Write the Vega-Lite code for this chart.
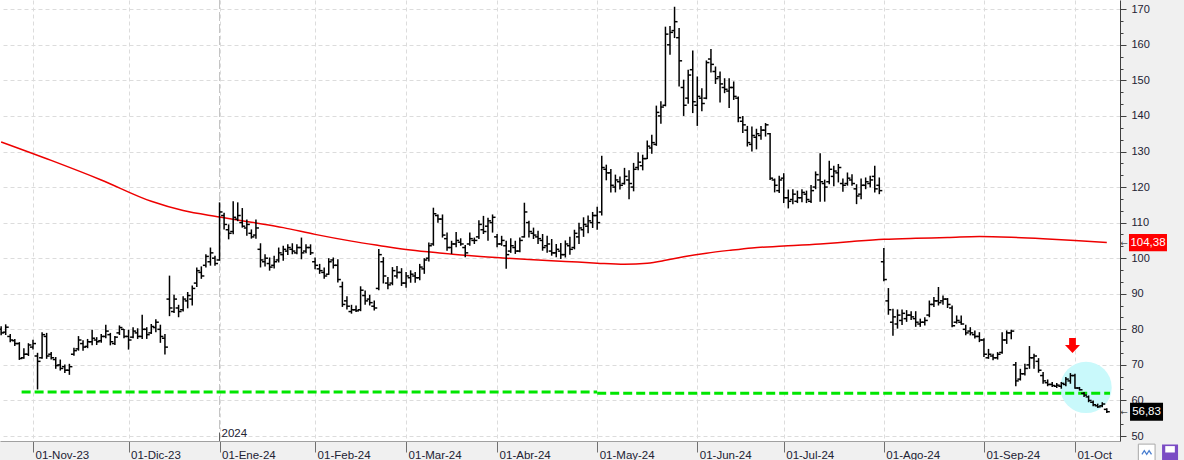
{
"$schema": "https://vega.github.io/schema/vega-lite/v6.json",
"width": 1120,
"height": 441,
"autosize": {"type": "none"},
"padding": {"left": 0, "top": 0, "right": 64, "bottom": 19},
"background": "#f0f0f0",
"view": {"fill": "#ffffff", "stroke": null},
"config": {"axis": {"labelFont": "Liberation Sans"}, "text": {"font": "Liberation Sans"}},
"resolve": {"scale": {"y": "independent"}, "axis": {"y": "independent", "x": "independent"}},
"datasets": {
"bars": [
{"i":0,"o":80.0,"h":80.9,"l":78.3,"c":79.0},
{"i":1,"o":79.2,"h":81.4,"l":78.4,"c":80.6},
{"i":2,"o":78.0,"h":78.7,"l":76.4,"c":77.0},
{"i":3,"o":76.8,"h":77.3,"l":75.3,"c":76.0},
{"i":4,"o":76.0,"h":76.4,"l":71.4,"c":71.8},
{"i":5,"o":72.0,"h":74.7,"l":71.7,"c":73.0},
{"i":6,"o":73.0,"h":76.1,"l":72.5,"c":75.6},
{"i":7,"o":75.0,"h":77.1,"l":74.3,"c":76.0},
{"i":8,"o":72.5,"h":73.4,"l":63.1,"c":71.0},
{"i":9,"o":72.0,"h":79.2,"l":71.7,"c":78.5},
{"i":10,"o":78.0,"h":79.0,"l":71.7,"c":72.5},
{"i":11,"o":73.0,"h":73.6,"l":71.5,"c":72.0},
{"i":12,"o":71.5,"h":72.2,"l":68.9,"c":69.8},
{"i":13,"o":70.0,"h":71.5,"l":68.4,"c":69.0},
{"i":14,"o":69.5,"h":70.1,"l":67.7,"c":68.5},
{"i":15,"o":68.5,"h":70.3,"l":67.2,"c":69.5},
{"i":16,"o":73.0,"h":74.8,"l":72.6,"c":74.0},
{"i":17,"o":74.5,"h":78.1,"l":74.0,"c":77.0},
{"i":18,"o":76.0,"h":76.9,"l":74.0,"c":75.0},
{"i":19,"o":75.2,"h":77.3,"l":74.7,"c":76.5},
{"i":20,"o":76.5,"h":79.9,"l":75.5,"c":77.5},
{"i":21,"o":77.0,"h":77.8,"l":75.6,"c":76.5},
{"i":22,"o":76.8,"h":78.7,"l":76.2,"c":78.0},
{"i":23,"o":78.0,"h":81.3,"l":77.5,"c":79.5},
{"i":24,"o":78.5,"h":79.0,"l":75.5,"c":76.5},
{"i":25,"o":76.0,"h":78.1,"l":75.6,"c":77.8},
{"i":26,"o":79.0,"h":81.1,"l":78.4,"c":80.5},
{"i":27,"o":80.0,"h":80.1,"l":77.5,"c":78.0},
{"i":28,"o":78.0,"h":79.9,"l":74.3,"c":77.0},
{"i":29,"o":77.8,"h":80.6,"l":77.5,"c":79.5},
{"i":30,"o":79.0,"h":80.3,"l":77.3,"c":78.0},
{"i":31,"o":78.0,"h":84.1,"l":77.3,"c":80.0},
{"i":32,"o":80.0,"h":80.6,"l":77.3,"c":78.5},
{"i":33,"o":79.0,"h":81.5,"l":78.7,"c":80.8},
{"i":34,"o":80.5,"h":82.8,"l":79.2,"c":82.0},
{"i":35,"o":80.0,"h":81.3,"l":76.2,"c":78.0},
{"i":36,"o":77.5,"h":78.7,"l":72.9,"c":75.0},
{"i":37,"o":88.5,"h":95.1,"l":83.7,"c":86.0},
{"i":38,"o":85.0,"h":89.7,"l":84.6,"c":88.5},
{"i":39,"o":86.0,"h":86.9,"l":83.4,"c":85.0},
{"i":40,"o":85.5,"h":89.3,"l":85.0,"c":88.5},
{"i":41,"o":88.0,"h":90.5,"l":85.9,"c":89.5},
{"i":42,"o":88.5,"h":92.3,"l":86.7,"c":91.5},
{"i":43,"o":93.0,"h":97.4,"l":91.9,"c":96.5},
{"i":44,"o":96.0,"h":97.7,"l":94.2,"c":95.0},
{"i":45,"o":98.0,"h":101.1,"l":97.4,"c":100.5},
{"i":46,"o":99.0,"h":103.0,"l":97.9,"c":101.5},
{"i":47,"o":100.0,"h":100.7,"l":97.9,"c":98.5},
{"i":48,"o":99.5,"h":115.7,"l":99.3,"c":113.0},
{"i":49,"o":112.0,"h":112.8,"l":108.1,"c":109.5},
{"i":50,"o":108.0,"h":109.5,"l":105.3,"c":107.0},
{"i":51,"o":107.5,"h":116.0,"l":106.7,"c":111.5},
{"i":52,"o":111.0,"h":115.7,"l":110.4,"c":112.0},
{"i":53,"o":110.0,"h":114.1,"l":108.6,"c":109.0},
{"i":54,"o":108.5,"h":110.9,"l":106.3,"c":109.5},
{"i":55,"o":107.0,"h":108.1,"l":105.5,"c":106.0},
{"i":56,"o":106.5,"h":110.9,"l":105.5,"c":108.5},
{"i":57,"o":102.5,"h":104.2,"l":97.4,"c":99.5},
{"i":58,"o":99.0,"h":101.1,"l":97.7,"c":100.0},
{"i":59,"o":98.5,"h":100.2,"l":96.5,"c":97.5},
{"i":60,"o":98.0,"h":100.7,"l":97.1,"c":99.0},
{"i":61,"o":99.5,"h":103.0,"l":98.8,"c":101.5},
{"i":62,"o":101.0,"h":103.5,"l":99.3,"c":102.5},
{"i":63,"o":102.0,"h":103.9,"l":100.9,"c":103.0},
{"i":64,"o":102.5,"h":104.2,"l":101.1,"c":102.0},
{"i":65,"o":101.5,"h":103.9,"l":101.1,"c":103.0},
{"i":66,"o":103.0,"h":105.8,"l":99.7,"c":101.5},
{"i":67,"o":102.0,"h":103.9,"l":101.4,"c":103.0},
{"i":68,"o":103.0,"h":103.9,"l":100.9,"c":101.5},
{"i":69,"o":99.0,"h":100.2,"l":96.9,"c":98.0},
{"i":70,"o":97.0,"h":98.4,"l":95.6,"c":96.5},
{"i":71,"o":96.0,"h":97.4,"l":94.2,"c":95.0},
{"i":72,"o":95.5,"h":100.0,"l":95.3,"c":99.0},
{"i":73,"o":99.5,"h":100.2,"l":97.1,"c":98.0},
{"i":74,"o":98.0,"h":99.7,"l":93.2,"c":94.0},
{"i":75,"o":92.0,"h":93.4,"l":86.3,"c":87.0},
{"i":76,"o":88.0,"h":89.3,"l":85.6,"c":86.5},
{"i":77,"o":85.0,"h":86.9,"l":84.4,"c":85.5},
{"i":78,"o":85.5,"h":86.7,"l":84.9,"c":85.2},
{"i":79,"o":85.5,"h":92.1,"l":85.1,"c":91.0},
{"i":80,"o":89.5,"h":90.9,"l":86.9,"c":88.0},
{"i":81,"o":88.5,"h":89.7,"l":86.7,"c":87.5},
{"i":82,"o":86.5,"h":88.1,"l":85.3,"c":86.0},
{"i":83,"o":91.5,"h":102.6,"l":91.0,"c":101.0},
{"i":84,"o":99.0,"h":100.3,"l":92.9,"c":95.0},
{"i":85,"o":93.0,"h":94.7,"l":91.3,"c":92.5},
{"i":86,"o":93.0,"h":97.5,"l":92.4,"c":96.5},
{"i":87,"o":95.0,"h":97.8,"l":94.3,"c":96.0},
{"i":88,"o":96.0,"h":97.2,"l":92.2,"c":93.0},
{"i":89,"o":93.0,"h":96.1,"l":91.7,"c":95.0},
{"i":90,"o":94.5,"h":96.6,"l":93.1,"c":95.5},
{"i":91,"o":95.0,"h":96.1,"l":93.1,"c":94.5},
{"i":92,"o":94.5,"h":98.4,"l":93.8,"c":97.5},
{"i":93,"o":97.0,"h":100.0,"l":95.6,"c":99.5},
{"i":94,"o":100.0,"h":104.4,"l":99.1,"c":103.5},
{"i":95,"o":104.0,"h":114.2,"l":103.5,"c":112.5},
{"i":96,"o":112.0,"h":112.3,"l":110.0,"c":111.0},
{"i":97,"o":111.0,"h":112.3,"l":105.8,"c":106.5},
{"i":98,"o":105.5,"h":107.2,"l":102.1,"c":103.0},
{"i":99,"o":103.0,"h":104.9,"l":101.2,"c":104.0},
{"i":100,"o":104.0,"h":107.4,"l":103.1,"c":105.0},
{"i":101,"o":104.5,"h":105.6,"l":103.5,"c":104.0},
{"i":102,"o":103.0,"h":103.7,"l":100.3,"c":101.5},
{"i":103,"o":104.0,"h":107.2,"l":103.5,"c":105.5},
{"i":104,"o":105.0,"h":105.8,"l":104.0,"c":105.0},
{"i":105,"o":106.0,"h":110.7,"l":105.4,"c":109.5},
{"i":106,"o":108.0,"h":111.9,"l":106.8,"c":107.5},
{"i":107,"o":109.0,"h":111.4,"l":104.9,"c":110.5},
{"i":108,"o":110.0,"h":112.3,"l":107.2,"c":111.5},
{"i":109,"o":106.0,"h":106.8,"l":103.1,"c":104.0},
{"i":110,"o":104.0,"h":106.3,"l":103.5,"c":105.0},
{"i":111,"o":103.5,"h":104.9,"l":97.0,"c":101.0},
{"i":112,"o":102.0,"h":105.6,"l":101.5,"c":103.5},
{"i":113,"o":103.0,"h":104.9,"l":101.2,"c":102.0},
{"i":114,"o":102.0,"h":105.8,"l":101.7,"c":105.0},
{"i":115,"o":106.0,"h":115.6,"l":105.8,"c":113.0},
{"i":116,"o":110.0,"h":110.5,"l":105.8,"c":107.5},
{"i":117,"o":107.0,"h":108.6,"l":105.4,"c":106.5},
{"i":118,"o":106.0,"h":107.7,"l":104.0,"c":105.5},
{"i":119,"o":105.0,"h":106.8,"l":102.1,"c":103.0},
{"i":120,"o":103.5,"h":106.3,"l":101.5,"c":104.0},
{"i":121,"o":102.0,"h":105.4,"l":100.7,"c":101.5},
{"i":122,"o":101.5,"h":104.0,"l":100.3,"c":102.5},
{"i":123,"o":102.0,"h":104.3,"l":99.8,"c":101.0},
{"i":124,"o":101.0,"h":105.0,"l":100.2,"c":104.0},
{"i":125,"o":103.5,"h":106.0,"l":101.0,"c":102.5},
{"i":126,"o":103.0,"h":108.0,"l":102.5,"c":107.0},
{"i":127,"o":106.0,"h":110.0,"l":104.0,"c":108.5},
{"i":128,"o":108.0,"h":111.5,"l":106.0,"c":109.5},
{"i":129,"o":109.0,"h":112.0,"l":107.0,"c":110.5},
{"i":130,"o":110.0,"h":113.0,"l":108.5,"c":112.0},
{"i":131,"o":112.0,"h":114.5,"l":108.0,"c":110.0},
{"i":132,"o":113.0,"h":128.8,"l":112.0,"c":125.5},
{"i":133,"o":125.0,"h":126.3,"l":121.9,"c":124.0},
{"i":134,"o":124.0,"h":125.1,"l":118.5,"c":120.5},
{"i":135,"o":120.0,"h":123.5,"l":118.5,"c":122.0},
{"i":136,"o":121.5,"h":123.0,"l":119.3,"c":120.5},
{"i":137,"o":121.0,"h":125.4,"l":120.7,"c":123.0},
{"i":138,"o":122.0,"h":124.7,"l":116.6,"c":121.0},
{"i":139,"o":120.0,"h":126.8,"l":118.8,"c":125.0},
{"i":140,"o":125.5,"h":129.8,"l":124.7,"c":127.0},
{"i":141,"o":126.0,"h":129.1,"l":124.7,"c":128.0},
{"i":142,"o":128.0,"h":133.1,"l":127.9,"c":131.5},
{"i":143,"o":131.0,"h":134.7,"l":129.4,"c":132.5},
{"i":144,"o":132.0,"h":142.9,"l":131.6,"c":141.0},
{"i":145,"o":140.0,"h":144.1,"l":137.8,"c":142.5},
{"i":146,"o":143.0,"h":165.1,"l":142.7,"c":163.0},
{"i":147,"o":160.0,"h":165.3,"l":157.2,"c":163.5},
{"i":148,"o":164.0,"h":170.7,"l":161.9,"c":166.5},
{"i":149,"o":162.0,"h":164.7,"l":148.3,"c":155.5},
{"i":150,"o":148.0,"h":150.2,"l":140.0,"c":143.0},
{"i":151,"o":145.0,"h":153.0,"l":143.4,"c":151.5},
{"i":152,"o":153.0,"h":158.4,"l":140.8,"c":144.0},
{"i":153,"o":143.0,"h":151.1,"l":137.2,"c":145.5},
{"i":154,"o":145.0,"h":147.8,"l":141.3,"c":143.5},
{"i":155,"o":145.0,"h":155.6,"l":144.7,"c":155.0},
{"i":156,"o":156.0,"h":158.8,"l":152.2,"c":154.5},
{"i":157,"o":152.5,"h":153.9,"l":149.0,"c":150.5},
{"i":158,"o":151.0,"h":152.5,"l":143.8,"c":149.0},
{"i":159,"o":148.0,"h":150.6,"l":146.4,"c":147.5},
{"i":160,"o":147.0,"h":150.6,"l":142.2,"c":148.0},
{"i":161,"o":148.0,"h":149.7,"l":144.5,"c":145.5},
{"i":162,"o":145.0,"h":145.5,"l":138.2,"c":139.5},
{"i":163,"o":138.5,"h":140.0,"l":135.2,"c":137.5},
{"i":164,"o":136.0,"h":137.2,"l":131.4,"c":132.5},
{"i":165,"o":132.0,"h":137.0,"l":130.0,"c":134.5},
{"i":166,"o":134.0,"h":136.4,"l":130.6,"c":135.0},
{"i":167,"o":134.5,"h":137.2,"l":133.3,"c":136.0},
{"i":168,"o":136.0,"h":138.0,"l":134.2,"c":137.5},
{"i":169,"o":135.0,"h":135.2,"l":122.0,"c":122.5},
{"i":170,"o":122.0,"h":122.4,"l":118.5,"c":120.5},
{"i":171,"o":119.0,"h":123.2,"l":118.3,"c":122.0},
{"i":172,"o":122.5,"h":123.9,"l":115.5,"c":117.0},
{"i":173,"o":117.0,"h":119.3,"l":114.0,"c":116.0},
{"i":174,"o":116.5,"h":119.4,"l":115.2,"c":118.0},
{"i":175,"o":116.0,"h":119.0,"l":115.5,"c":117.0},
{"i":176,"o":117.0,"h":119.4,"l":115.7,"c":118.5},
{"i":177,"o":118.0,"h":119.0,"l":115.5,"c":116.5},
{"i":178,"o":116.0,"h":120.6,"l":115.5,"c":119.0},
{"i":179,"o":120.0,"h":124.4,"l":119.4,"c":123.5},
{"i":180,"o":122.0,"h":129.5,"l":115.9,"c":121.5},
{"i":181,"o":121.0,"h":122.1,"l":115.9,"c":120.0},
{"i":182,"o":121.5,"h":127.4,"l":120.8,"c":125.0},
{"i":183,"o":123.0,"h":126.0,"l":120.2,"c":124.5},
{"i":184,"o":124.0,"h":126.5,"l":121.3,"c":125.5},
{"i":185,"o":121.0,"h":122.4,"l":118.7,"c":120.5},
{"i":186,"o":121.0,"h":124.1,"l":120.4,"c":122.5},
{"i":187,"o":122.0,"h":123.6,"l":120.4,"c":121.0},
{"i":188,"o":119.5,"h":120.8,"l":115.2,"c":117.5},
{"i":189,"o":118.0,"h":122.4,"l":116.6,"c":120.5},
{"i":190,"o":120.5,"h":122.7,"l":119.4,"c":121.5},
{"i":191,"o":121.0,"h":123.2,"l":119.9,"c":122.0},
{"i":192,"o":123.0,"h":126.0,"l":118.5,"c":119.5},
{"i":193,"o":120.5,"h":122.7,"l":118.0,"c":119.0},
{"i":194,"o":99.0,"h":102.9,"l":93.5,"c":94.0},
{"i":195,"o":88.0,"h":91.6,"l":84.1,"c":85.5},
{"i":196,"o":82.0,"h":85.8,"l":78.2,"c":83.5},
{"i":197,"o":81.5,"h":85.6,"l":80.2,"c":84.0},
{"i":198,"o":82.5,"h":85.6,"l":81.2,"c":84.5},
{"i":199,"o":83.0,"h":85.4,"l":82.1,"c":84.0},
{"i":200,"o":84.0,"h":85.1,"l":82.6,"c":83.5},
{"i":201,"o":83.0,"h":85.1,"l":80.7,"c":82.0},
{"i":202,"o":81.5,"h":83.0,"l":80.7,"c":82.0},
{"i":203,"o":82.0,"h":83.4,"l":81.1,"c":82.5},
{"i":204,"o":84.0,"h":88.1,"l":83.4,"c":87.0},
{"i":205,"o":87.0,"h":89.1,"l":86.3,"c":88.0},
{"i":206,"o":88.0,"h":91.9,"l":86.7,"c":87.5},
{"i":207,"o":88.0,"h":89.5,"l":86.9,"c":88.5},
{"i":208,"o":88.5,"h":88.8,"l":86.0,"c":87.0},
{"i":209,"o":86.0,"h":86.7,"l":80.6,"c":81.0},
{"i":210,"o":82.0,"h":83.9,"l":81.6,"c":82.5},
{"i":211,"o":82.0,"h":83.9,"l":81.3,"c":81.5},
{"i":212,"o":80.0,"h":81.3,"l":78.3,"c":79.0},
{"i":213,"o":79.5,"h":80.6,"l":78.3,"c":79.0},
{"i":214,"o":78.5,"h":79.7,"l":77.4,"c":78.0},
{"i":215,"o":78.0,"h":79.2,"l":76.4,"c":77.0},
{"i":216,"o":77.0,"h":77.5,"l":72.2,"c":73.0},
{"i":217,"o":72.0,"h":74.5,"l":71.7,"c":73.0},
{"i":218,"o":72.5,"h":73.1,"l":71.3,"c":72.0},
{"i":219,"o":72.0,"h":73.6,"l":71.5,"c":73.0},
{"i":220,"o":73.5,"h":79.2,"l":73.1,"c":77.0},
{"i":221,"o":77.0,"h":79.7,"l":75.9,"c":79.0},
{"i":222,"o":79.0,"h":79.9,"l":77.2,"c":79.5},
{"i":223,"o":70.0,"h":70.8,"l":64.0,"c":65.5},
{"i":224,"o":66.0,"h":68.9,"l":65.6,"c":67.5},
{"i":225,"o":67.5,"h":70.3,"l":67.0,"c":69.0},
{"i":226,"o":70.0,"h":75.3,"l":68.9,"c":72.0},
{"i":227,"o":72.0,"h":73.1,"l":68.9,"c":72.5},
{"i":228,"o":71.0,"h":71.9,"l":67.8,"c":68.5},
{"i":229,"o":67.0,"h":68.0,"l":64.7,"c":65.5},
{"i":230,"o":65.0,"h":65.9,"l":64.0,"c":64.5},
{"i":231,"o":64.5,"h":65.2,"l":63.8,"c":64.2},
{"i":232,"o":64.0,"h":64.9,"l":63.5,"c":64.3},
{"i":233,"o":64.0,"h":65.2,"l":63.3,"c":64.8},
{"i":234,"o":64.5,"h":66.6,"l":64.0,"c":66.0},
{"i":235,"o":65.5,"h":67.7,"l":64.7,"c":67.0},
{"i":236,"o":67.0,"h":67.5,"l":63.3,"c":63.5},
{"i":237,"o":63.5,"h":63.8,"l":62.8,"c":63.0},
{"i":238,"o":62.0,"h":62.4,"l":61.0,"c":61.5},
{"i":239,"o":61.0,"h":61.4,"l":59.5,"c":60.0},
{"i":240,"o":59.5,"h":60.0,"l":58.4,"c":58.8},
{"i":241,"o":58.5,"h":59.1,"l":57.9,"c":58.2},
{"i":242,"o":58.5,"h":59.5,"l":58.1,"c":59.0},
{"i":243,"o":57.5,"h":57.8,"l":56.5,"c":56.83}
],
"ma": [
{"i":0,"v":132.7},{"i":11,"v":127.5},{"i":22,"v":122.0},{"i":33,"v":116.0},{"i":40,"v":113.4},{"i":48,"v":111.6},{"i":55,"v":110.1},{"i":62,"v":108.6},{"i":69,"v":106.7},{"i":77,"v":104.8},{"i":83,"v":103.6},{"i":90,"v":102.3},{"i":97,"v":101.4},{"i":104,"v":100.6},{"i":111,"v":100.0},{"i":118,"v":99.5},{"i":124,"v":99.1},{"i":131,"v":98.6},{"i":137,"v":98.3},{"i":142,"v":98.6},{"i":146,"v":99.4},{"i":150,"v":100.4},{"i":155,"v":101.4},{"i":160,"v":102.2},{"i":165,"v":102.9},{"i":172,"v":103.4},{"i":180,"v":104.0},{"i":187,"v":104.7},{"i":194,"v":105.3},{"i":201,"v":105.6},{"i":208,"v":105.8},{"i":215,"v":106.1},{"i":222,"v":105.9},{"i":229,"v":105.5},{"i":236,"v":105.0},{"i":243,"v":104.4}
],
"support": [
{"from":4.5,"to":131,"level":62.4},
{"from":131,"to":243.7,"level":62.0}
],
"tags": [
{"kind":"ma","v":104.38,"txt":"104,38"},
{"kind":"close","v":56.83,"txt":"56,83"}
]
},
"layer": [
{
"data": {"values": [{}]},
"mark": {"type": "rule", "color": "#c4c4c4", "strokeWidth": 1, "strokeDash": [9, 3]},
"encoding": {
"x": {"datum": 48, "type": "quantitative", "scale": {"type": "linear", "domain": [-0.25, 245.9], "nice": false, "zero": false}, "axis": null},
"y": {"datum": 48.6, "type": "quantitative", "scale": {"type": "linear", "domain": [48.6, 172.6], "nice": false, "zero": false}, "axis": null},
"y2": {"datum": 172.6}
}
},
{
"data": {"values": [{}]},
"mark": {"type": "point", "shape": "circle", "filled": true, "size": 2642, "color": "#c9f9fb", "opacity": 1},
"encoding": {
"x": {"datum": 238.43, "type": "quantitative", "scale": {"type": "linear", "domain": [-0.25, 245.9], "nice": false, "zero": false}, "axis": null},
"y": {"datum": 63.67, "type": "quantitative", "scale": {"type": "linear", "domain": [48.6, 172.6], "nice": false, "zero": false}, "axis": null}
}
},
{
"data": {"name": "support"},
"mark": {"type": "rule", "color": "#00e600", "strokeWidth": 3, "strokeDash": [9, 4]},
"encoding": {
"x": {"field": "from", "type": "quantitative", "scale": {"type": "linear", "domain": [-0.25, 245.9], "nice": false, "zero": false}, "axis": null},
"x2": {"field": "to"},
"y": {"field": "level", "type": "quantitative", "scale": {"type": "linear", "domain": [48.6, 172.6], "nice": false, "zero": false}, "axis": null}
}
},
{
"data": {"name": "ma"},
"mark": {"type": "line", "color": "#ee0000", "strokeWidth": 1.5, "interpolate": "monotone"},
"encoding": {
"x": {"field": "i", "type": "quantitative", "scale": {"type": "linear", "domain": [-0.25, 245.9], "nice": false, "zero": false}, "axis": null},
"y": {"field": "v", "type": "quantitative", "scale": {"type": "linear", "domain": [48.6, 172.6], "nice": false, "zero": false},
"axis": {"title": null, "orient": "right", "values": [53.3333, 56.6667, 63.3333, 66.6667, 73.3333, 76.6667, 83.3333, 86.6667, 93.3333, 96.6667, 103.3333, 106.6667, 113.3333, 116.6667, 123.3333, 126.6667, 133.3333, 136.6667, 143.3333, 146.6667, 153.3333, 156.6667, 163.3333, 166.6667],
"labels": false, "grid": false, "domain": false, "tickSize": 3, "tickColor": "#404040"}}
}
},
{
"data": {"name": "bars"},
"mark": {"type": "rule", "color": "#000000", "strokeWidth": 1.5},
"encoding": {
"x": {"field": "i", "type": "quantitative", "scale": {"type": "linear", "domain": [-0.25, 245.9], "nice": false, "zero": false},
"axis": {"title": null, "values": [7, 28, 48, 69, 89, 109, 131, 153, 172, 194, 216, 236],
"labelExpr": "['01-Nov-23','01-Dic-23','01-Ene-24','01-Feb-24','01-Mar-24','01-Abr-24','01-May-24','01-Jun-24','01-Jul-24','01-Ago-24','01-Sep-24','01-Oct'][indexof([7,28,48,69,89,109,131,153,172,194,216,236], datum.value)]",
"grid": true, "gridColor": "#dcdcdc", "gridDash": [4, 3],
"domainColor": "#a0a0a0", "tickColor": "#707070", "tickSize": 11,
"labelAlign": "left", "labelBaseline": "alphabetic", "labelPadding": 6, "labelOffset": 2,
"labelFlush": false, "labelOverlap": false, "labelBound": false,
"labelFontSize": 11.5, "labelColor": "#222233"}},
"y": {"field": "l", "type": "quantitative", "scale": {"type": "linear", "domain": [48.6, 172.6], "nice": false, "zero": false},
"axis": {"title": null, "orient": "right",
"values": [50, 60, 70, 80, 90, 100, 110, 120, 130, 140, 150, 160, 170],
"grid": true, "gridColor": "#dcdcdc", "gridDash": [4, 3],
"domainColor": "#404040", "tickColor": "#404040", "tickSize": 6,
"labelPadding": 5, "labelFontSize": 11, "labelColor": "#222233",
"labelOverlap": false, "labelFlush": false, "labelBaseline": "middle"}},
"y2": {"field": "h"}
}
},
{
"data": {"name": "bars"},
"mark": {"type": "rule", "color": "#000000", "strokeWidth": 1.5, "xOffset": -3, "x2Offset": 0},
"encoding": {
"x": {"field": "i", "type": "quantitative", "scale": {"type": "linear", "domain": [-0.25, 245.9], "nice": false, "zero": false}, "axis": null},
"x2": {"field": "i"},
"y": {"field": "o", "type": "quantitative", "scale": {"type": "linear", "domain": [48.6, 172.6], "nice": false, "zero": false}, "axis": null}
}
},
{
"data": {"name": "bars"},
"mark": {"type": "rule", "color": "#000000", "strokeWidth": 1.5, "xOffset": 0, "x2Offset": 3},
"encoding": {
"x": {"field": "i", "type": "quantitative", "scale": {"type": "linear", "domain": [-0.25, 245.9], "nice": false, "zero": false}, "axis": null},
"x2": {"field": "i"},
"y": {"field": "c", "type": "quantitative", "scale": {"type": "linear", "domain": [48.6, 172.6], "nice": false, "zero": false}, "axis": null}
}
},
{
"data": {"values": [{}]},
"mark": {"type": "point", "shape": "M-0.45,-1H0.45V-0.05H1L0,1L-1,-0.05H-0.45Z", "filled": true, "size": 225, "color": "#ff0000", "opacity": 1},
"encoding": {
"x": {"datum": 235.46, "type": "quantitative", "scale": {"type": "linear", "domain": [-0.25, 245.9], "nice": false, "zero": false}, "axis": null},
"y": {"datum": 75.48, "type": "quantitative", "scale": {"type": "linear", "domain": [48.6, 172.6], "nice": false, "zero": false}, "axis": null}
}
},
{
"data": {"values": [{}]},
"mark": {"type": "rule", "color": "#606060", "strokeWidth": 1},
"encoding": {
"x": {"datum": 48, "type": "quantitative", "scale": {"type": "linear", "domain": [-0.25, 245.9], "nice": false, "zero": false}, "axis": null},
"y": {"datum": 48.6, "type": "quantitative", "scale": {"type": "linear", "domain": [48.6, 172.6], "nice": false, "zero": false}, "axis": null},
"y2": {"datum": 50.9}
}
},
{
"data": {"values": [{"t": "2024"}]},
"mark": {"type": "text", "align": "left", "baseline": "alphabetic", "dx": 2, "fontSize": 11.5, "color": "#222233"},
"encoding": {
"x": {"datum": 48, "type": "quantitative", "scale": {"type": "linear", "domain": [-0.25, 245.9], "nice": false, "zero": false}, "axis": null},
"y": {"datum": 49.6, "type": "quantitative", "scale": {"type": "linear", "domain": [48.6, 172.6], "nice": false, "zero": false}, "axis": null},
"text": {"field": "t"}
}
},
{
"data": {"name": "tags"},
"transform": [{"filter": "datum.kind == 'ma'"}],
"mark": {"type": "point", "shape": "M-1,-0.45H1V0.45H-1Z", "filled": true, "size": 1444, "color": "#ff0000", "opacity": 1},
"encoding": {
"x": {"datum": 252.05, "type": "quantitative", "scale": {"type": "linear", "domain": [-0.25, 245.9], "nice": false, "zero": false}, "axis": null},
"y": {"field": "v", "type": "quantitative", "scale": {"type": "linear", "domain": [48.6, 172.6], "nice": false, "zero": false}, "axis": null}
}
},
{
"data": {"name": "tags"},
"transform": [{"filter": "datum.kind == 'close'"}],
"mark": {"type": "point", "shape": "M-1,-0.55H1V0.55H-1Z", "filled": true, "size": 1089, "color": "#000000", "opacity": 1},
"encoding": {
"x": {"datum": 251.73, "type": "quantitative", "scale": {"type": "linear", "domain": [-0.25, 245.9], "nice": false, "zero": false}, "axis": null},
"y": {"field": "v", "type": "quantitative", "scale": {"type": "linear", "domain": [48.6, 172.6], "nice": false, "zero": false}, "axis": null}
}
},
{
"data": {"name": "tags"},
"transform": [{"filter": "datum.kind == 'ma'"}],
"mark": {"type": "text", "align": "center", "baseline": "middle", "fontSize": 11.5, "color": "#ffffff"},
"encoding": {
"x": {"datum": 252.05, "type": "quantitative", "scale": {"type": "linear", "domain": [-0.25, 245.9], "nice": false, "zero": false}, "axis": null},
"y": {"field": "v", "type": "quantitative", "scale": {"type": "linear", "domain": [48.6, 172.6], "nice": false, "zero": false}, "axis": null},
"text": {"field": "txt"}
}
},
{
"data": {"name": "tags"},
"transform": [{"filter": "datum.kind == 'close'"}],
"mark": {"type": "text", "align": "center", "baseline": "middle", "fontSize": 11.5, "color": "#ffffff"},
"encoding": {
"x": {"datum": 251.73, "type": "quantitative", "scale": {"type": "linear", "domain": [-0.25, 245.9], "nice": false, "zero": false}, "axis": null},
"y": {"field": "v", "type": "quantitative", "scale": {"type": "linear", "domain": [48.6, 172.6], "nice": false, "zero": false}, "axis": null},
"text": {"field": "txt"}
}
},
{
"data": {"name": "tags"},
"mark": {"type": "text", "align": "center", "baseline": "middle", "fontSize": 9, "font": "DejaVu Sans", "color": "#555555"},
"encoding": {
"x": {"datum": 246.78, "type": "quantitative", "scale": {"type": "linear", "domain": [-0.25, 245.9], "nice": false, "zero": false}, "axis": null},
"y": {"field": "v", "type": "quantitative", "scale": {"type": "linear", "domain": [48.6, 172.6], "nice": false, "zero": false}, "axis": null},
"text": {"value": "←"}
}
},
{
"data": {"values": [{}]},
"mark": {"type": "point", "shape": "square", "filled": true, "size": 280, "fill": "#ffffff", "stroke": "#a8a8a8", "strokeWidth": 1, "opacity": 1},
"encoding": {
"x": {"datum": 251.77, "type": "quantitative", "scale": {"type": "linear", "domain": [-0.25, 245.9], "nice": false, "zero": false}, "axis": null},
"y": {"datum": 45.37, "type": "quantitative", "scale": {"type": "linear", "domain": [48.6, 172.6], "nice": false, "zero": false}, "axis": null}
}
},
{
"data": {"values": [{}]},
"mark": {"type": "point", "shape": "M-0.8,0.3L-0.4,-0.3L0,0.3L0.4,-0.3L0.8,0.3", "filled": false, "size": 144, "stroke": "#4a7fd0", "strokeWidth": 1.3, "opacity": 1},
"encoding": {
"x": {"datum": 251.77, "type": "quantitative", "scale": {"type": "linear", "domain": [-0.25, 245.9], "nice": false, "zero": false}, "axis": null},
"y": {"datum": 45.37, "type": "quantitative", "scale": {"type": "linear", "domain": [48.6, 172.6], "nice": false, "zero": false}, "axis": null}
}
},
{
"data": {"values": [{}]},
"mark": {"type": "point", "shape": "square", "filled": true, "size": 256, "color": "#7b4cc4", "opacity": 1},
"encoding": {
"x": {"datum": 256.9, "type": "quantitative", "scale": {"type": "linear", "domain": [-0.25, 245.9], "nice": false, "zero": false}, "axis": null},
"y": {"datum": 45.37, "type": "quantitative", "scale": {"type": "linear", "domain": [48.6, 172.6], "nice": false, "zero": false}, "axis": null}
}
},
{
"data": {"values": [{}]},
"mark": {"type": "point", "shape": "M-0.6,-0.8H0.6V0H-0.6Z", "filled": true, "size": 256, "color": "#ffffff", "opacity": 1},
"encoding": {
"x": {"datum": 256.9, "type": "quantitative", "scale": {"type": "linear", "domain": [-0.25, 245.9], "nice": false, "zero": false}, "axis": null},
"y": {"datum": 45.37, "type": "quantitative", "scale": {"type": "linear", "domain": [48.6, 172.6], "nice": false, "zero": false}, "axis": null}
}
}
]
}
